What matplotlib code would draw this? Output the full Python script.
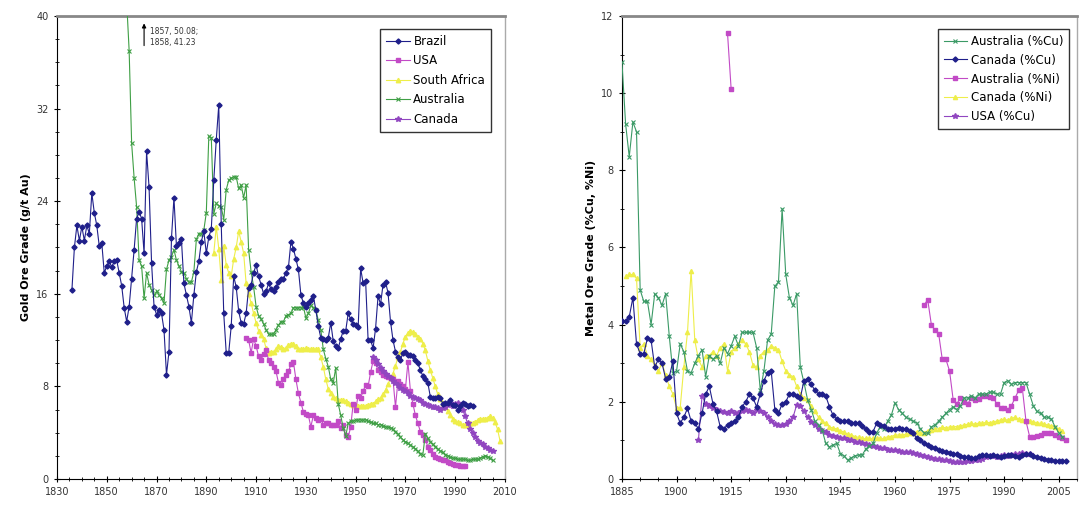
import numpy as np
import matplotlib
matplotlib.use("Agg")
import matplotlib.pyplot as plt
from matplotlib.ticker import MultipleLocator

# ---------------- gold (left panel) ----------------
brazil_years = list(range(1836, 1998))
brazil = [16.3, 20.0, 21.9, 20.6, 21.8, 20.6, 21.9, 21.2, 24.7, 23.0,
          21.9, 20.1, 20.4, 17.8, 18.4, 18.8, 18.3, 18.8, 18.9, 17.8,
          16.7, 14.8, 13.6, 14.9, 17.3, 19.8, 22.5, 23.1, 22.5, 19.5,
          28.3, 25.2, 18.7, 14.9, 14.2, 14.6, 14.3, 12.9, 9.0, 11.0,
          20.8, 24.3, 20.1, 20.4, 20.7, 16.9, 15.9, 14.9, 13.5, 15.9,
          17.9, 18.8, 20.5, 21.4, 19.5, 20.9, 21.6, 25.8, 29.3, 32.3,
          22.0, 14.3, 10.9, 10.9, 13.2, 17.5, 16.6, 14.5, 13.5, 13.4,
          14.3, 16.5, 16.8, 17.8, 18.5, 17.5, 16.8, 16.0, 16.2, 16.9,
          16.4, 16.2, 16.6, 17.0, 17.3, 17.3, 17.8, 18.3, 20.5, 19.9,
          19.0, 18.1, 15.9, 15.2, 14.9, 15.2, 15.5, 15.8, 14.6, 13.2,
          12.2, 12.1, 12.0, 12.2, 13.5, 11.9, 11.5, 11.3, 12.1, 12.8,
          12.8, 14.3, 13.8, 13.4, 13.3, 13.1, 18.2, 16.9, 17.1, 12.0,
          12.0, 11.3, 13.0, 15.8, 15.1, 16.8, 17.0, 16.1, 13.6, 12.0,
          11.0, 10.5, 10.3, 10.9, 11.0, 10.7, 10.7, 10.6, 10.3, 10.0,
          9.4, 8.9, 8.6, 8.3, 7.1, 7.0, 7.0, 7.1, 7.0, 6.5,
          6.6, 6.6, 6.8, 6.4, 6.4, 6.0, 6.3, 6.6, 6.5, 6.3,
          6.4, 6.3]

usa_years = list(range(1906, 1995))
usa = [12.2, 12.0, 10.9, 12.1, 11.5, 10.6, 10.3, 10.8, 11.1, 10.3,
       10.0, 9.7, 9.3, 8.3, 8.1, 8.6, 9.0, 9.3, 9.9, 10.1,
       8.6, 7.4, 6.6, 5.8, 5.6, 5.5, 4.5, 5.5, 5.3, 5.1,
       5.2, 4.7, 4.8, 4.8, 4.7, 4.7, 4.7, 5.0, 4.4, 4.7,
       3.8, 3.6, 4.5, 6.5, 6.0, 7.2, 7.0, 7.6, 8.1, 8.0,
       9.2, 10.2, 10.0, 9.4, 9.2, 9.0, 8.9, 8.8, 8.7, 8.6,
       6.2, 8.5, 8.2, 8.0, 7.8, 10.1, 7.6, 6.5, 5.5, 4.8,
       4.1, 3.8, 3.4, 2.8, 2.5, 2.2, 1.9, 1.8, 1.7, 1.6,
       1.6, 1.5, 1.4, 1.3, 1.2, 1.2, 1.1, 1.1, 1.1]

safrica_years = list(range(1893, 2009))
safrica = [19.5, 21.8, 19.9, 17.2, 20.1, 18.5, 17.8, 17.5, 19.0, 20.0,
           21.4, 20.5, 19.5, 16.9, 16.0, 15.2, 14.3, 13.5, 12.8, 12.4,
           12.1, 11.3, 10.9, 11.0, 11.0, 11.2, 11.5, 11.4, 11.2, 11.3,
           11.6, 11.7, 11.7, 11.5, 11.2, 11.2, 11.2, 11.3, 11.2, 11.2,
           11.2, 11.2, 11.2, 10.5, 9.7, 8.6, 7.8, 7.4, 7.1, 7.0,
           6.8, 6.8, 6.8, 6.7, 6.6, 6.5, 6.4, 6.4, 6.3, 6.3,
           6.3, 6.3, 6.4, 6.5, 6.5, 6.7, 6.9, 7.0, 7.3, 7.7,
           8.2, 8.7, 9.1, 9.8, 10.5, 11.0, 11.7, 12.3, 12.6, 12.8,
           12.7, 12.5, 12.3, 12.1, 11.7, 11.1, 10.2, 9.4, 8.7, 8.0,
           7.3, 6.9, 6.6, 6.2, 5.9, 5.5, 5.2, 5.0, 4.9, 4.8,
           4.7, 4.7, 4.7, 4.8, 4.8, 4.9, 5.1, 5.2, 5.2, 5.2,
           5.3, 5.4, 5.3, 4.9, 4.3, 3.3]

australia_years = list(range(1857, 2006))
australia = [50.08, 41.23, 37.0, 29.0, 26.0, 23.5, 18.9, 18.4, 15.6, 17.8,
             16.8, 16.3, 15.9, 16.2, 15.9, 15.6, 15.2, 18.1, 18.9, 19.2,
             19.8, 18.9, 18.4, 17.9, 17.8, 17.3, 17.0, 17.0, 17.9, 20.7,
             21.2, 21.2, 21.5, 23.0, 29.6, 29.5, 22.9, 23.8, 23.6, 23.5,
             22.4, 25.0, 25.8, 26.0, 26.1, 26.1, 25.1, 25.4, 24.3, 25.4,
             19.8, 17.9, 16.6, 14.9, 14.1, 13.8, 13.4, 12.9, 12.5, 12.5,
             12.5, 12.9, 13.3, 13.6, 13.6, 14.1, 14.2, 14.3, 14.8, 14.8,
             14.8, 14.8, 14.9, 13.9, 14.3, 15.0, 14.8, 14.6, 13.7, 12.9,
             11.2, 10.4, 9.7, 8.6, 8.3, 9.6, 6.5, 5.5, 4.4, 3.7,
             4.8, 5.0, 5.0, 5.1, 5.1, 5.1, 5.1, 5.1, 5.0, 4.9,
             4.8, 4.8, 4.7, 4.7, 4.6, 4.5, 4.5, 4.4, 4.3, 4.1,
             3.9, 3.6, 3.4, 3.2, 3.1, 2.9, 2.8, 2.6, 2.4, 2.2,
             2.1, 3.9, 3.5, 3.2, 3.0, 2.8, 2.6, 2.4, 2.3, 2.1,
             2.0, 1.9, 1.8, 1.8, 1.7, 1.7, 1.7, 1.7, 1.6, 1.6,
             1.7, 1.7, 1.7, 1.8, 1.9, 2.0, 1.9, 1.8, 1.6]

canada_years = list(range(1957, 2006))
canada = [10.5, 10.3, 9.9, 9.6, 9.3, 9.1, 8.9, 8.7, 8.5, 8.3,
          8.1, 7.9, 7.7, 7.6, 7.4, 7.2, 7.1, 7.0, 6.9, 6.8,
          6.6, 6.5, 6.4, 6.3, 6.2, 6.2, 6.1, 6.0, 6.1, 6.2,
          6.4, 6.6, 6.3, 6.5, 6.6, 6.4, 6.0, 5.4, 4.8, 4.3,
          4.0, 3.6, 3.3, 3.1, 3.0, 2.8, 2.7, 2.5, 2.4]

# ---------------- copper / nickel (right panel) ----------------
aus_cu_years = list(range(1885, 2007))
aus_cu = [10.8, 9.2, 8.35, 9.25, 9.0, 4.9, 4.6, 4.6, 4.0, 4.8,
          4.7, 4.5, 4.8, 3.7, 2.75, 2.8, 3.5, 3.3, 2.8, 2.75,
          3.0, 3.2, 3.35, 2.65, 3.2, 3.1, 3.2, 3.0, 3.4, 3.25,
          3.45, 3.7, 3.45, 3.8, 3.8, 3.8, 3.8, 3.4, 2.3, 2.8,
          3.6, 3.75, 5.0, 5.1, 7.0, 5.3, 4.7, 4.5, 4.8, 2.9,
          2.5, 2.05, 1.8, 1.5, 1.4, 1.27, 0.92, 0.83, 0.88, 0.92,
          0.66, 0.6, 0.49, 0.55, 0.6, 0.62, 0.62, 0.78, 0.85, 0.92,
          1.2, 1.35, 1.3, 1.5, 1.65, 1.97, 1.8, 1.7, 1.6, 1.55,
          1.5, 1.45, 1.3, 1.2, 1.18, 1.35, 1.4, 1.5, 1.6, 1.7,
          1.8, 1.87, 1.8, 1.9, 2.1, 2.1, 2.15, 2.1, 2.2, 2.2,
          2.2, 2.25, 2.25, 2.2, 2.2, 2.5, 2.55, 2.45, 2.5, 2.5,
          2.5, 2.5, 2.2, 1.9, 1.75, 1.7, 1.6, 1.6, 1.55, 1.35,
          1.2, 1.1]

can_cu_years = list(range(1885, 2008))
can_cu = [4.1, 4.1, 4.2, 4.7, 3.5, 3.25, 3.25, 3.65, 3.6, 2.9,
          3.1, 3.0, 2.6, 2.65, 3.05, 1.7, 1.45, 1.6, 1.83, 1.5,
          1.45, 1.3, 1.7, 2.2, 2.4, 1.95, 1.75, 1.35, 1.3, 1.4,
          1.45, 1.5, 1.6, 1.87, 2.0, 2.2, 2.1, 1.87, 2.2, 2.55,
          2.75, 2.8, 1.8, 1.7, 1.95, 2.0, 2.2, 2.2, 2.15, 2.1,
          2.55, 2.6, 2.45, 2.3, 2.2, 2.2, 2.15, 1.87, 1.65, 1.55,
          1.5, 1.5, 1.5, 1.45, 1.45, 1.45, 1.37, 1.3, 1.23, 1.23,
          1.45, 1.4, 1.37, 1.3, 1.3, 1.3, 1.33, 1.3, 1.3, 1.25,
          1.2, 1.05, 1.0, 0.92, 0.88, 0.84, 0.8, 0.75, 0.72, 0.7,
          0.68, 0.66, 0.64, 0.6, 0.58, 0.56, 0.55, 0.54, 0.6, 0.62,
          0.62, 0.6, 0.62, 0.6, 0.58, 0.6, 0.62, 0.63, 0.6, 0.58,
          0.62, 0.66, 0.66, 0.6, 0.58, 0.55, 0.52, 0.5, 0.48, 0.47,
          0.47, 0.46, 0.46]

aus_ni_years = [1914, 1915, 1916] + list(range(1968, 2008))
aus_ni = [11.55, 10.1, np.nan,
          4.5, 4.65, 4.0, 3.85, 3.77, 3.1, 3.1, 2.8, 2.05, 1.95,
          2.1, 2.0, 1.95, 2.1, 2.05, 2.08, 2.15, 2.15, 2.12, 2.1,
          1.95, 1.85, 1.85, 1.8, 1.9, 2.1, 2.3, 2.35, 1.5, 1.1,
          1.1, 1.12, 1.15, 1.18, 1.2, 1.2, 1.15, 1.1, 1.05, 1.0]

can_ni_years = list(range(1886, 2007))
can_ni = [5.25, 5.3, 5.3, 5.2, 3.4, 3.5, 3.2, 3.1, 2.95, 2.8,
          3.0, 2.7, 2.4, 2.2, 1.83, 1.85, 2.9, 3.8, 5.4, 3.6,
          3.1, 2.9, 3.2, 3.2, 3.3, 3.2, 3.4, 3.5, 2.8, 3.3,
          3.4, 3.5, 3.6, 3.5, 3.3, 2.95, 2.9, 3.2, 3.3, 3.35,
          3.45, 3.4, 3.35, 3.05, 2.8, 2.7, 2.65, 2.4, 2.2, 2.1,
          2.05, 1.9, 1.75, 1.6, 1.5, 1.45, 1.35, 1.32, 1.3, 1.25,
          1.22, 1.16, 1.14, 1.1, 1.08, 1.05, 1.05, 1.05, 1.05, 1.05,
          1.05, 1.05, 1.1, 1.1, 1.14, 1.14, 1.14, 1.16, 1.18, 1.2,
          1.22, 1.18, 1.2, 1.25, 1.27, 1.3, 1.3, 1.35, 1.32, 1.35,
          1.35, 1.36, 1.38, 1.4, 1.42, 1.44, 1.42, 1.45, 1.44, 1.47,
          1.46, 1.48, 1.5, 1.53, 1.55, 1.52, 1.57, 1.6, 1.55, 1.53,
          1.5, 1.5, 1.48, 1.46, 1.44, 1.42, 1.4, 1.38, 1.35, 1.3,
          1.25]

usa_cu_years = list(range(1906, 1998))
usa_cu = [1.0, 2.15, 1.95, 1.9, 1.85, 1.78, 1.75, 1.73, 1.72, 1.75,
          1.7, 1.72, 1.75, 1.78, 1.75, 1.72, 1.8, 1.75, 1.7, 1.6,
          1.5, 1.43, 1.4, 1.4, 1.43, 1.5, 1.6, 1.92, 1.88, 1.75,
          1.6, 1.48, 1.4, 1.3, 1.25, 1.22, 1.15, 1.12, 1.1, 1.07,
          1.05, 1.02, 1.0, 0.97, 0.95, 0.92, 0.9, 0.88, 0.86, 0.83,
          0.81, 0.79, 0.76, 0.75, 0.74, 0.73, 0.71, 0.7, 0.69, 0.67,
          0.65, 0.63, 0.6, 0.58, 0.55, 0.53, 0.51, 0.5, 0.48, 0.46,
          0.45, 0.45, 0.45, 0.45, 0.46, 0.47, 0.48, 0.5, 0.53, 0.58,
          0.6, 0.6, 0.58, 0.6, 0.62, 0.6, 0.62, 0.65, 0.66, 0.68,
          0.66, 0.65]

NAVY = "#1f1f8a"
MAGENTA = "#c24ac6"
YELLOW = "#eeee4a"
GREEN = "#3f9f45"
PURPLE = "#9146c0"
TEAL = "#3b9a66"

fig = plt.figure(figsize=(10.83, 5.12), dpi=100)
ax1 = fig.add_axes([0.0526, 0.0645, 0.4137, 0.9043])
ax2 = fig.add_axes([0.5743, 0.0645, 0.4201, 0.9043])

lw = 0.8
ax1.plot(brazil_years, brazil, color=NAVY, marker="D", ms=2.6, lw=lw, label="Brazil", zorder=5)
ax1.plot(usa_years, usa, color=MAGENTA, marker="s", ms=3.2, lw=lw, label="USA", zorder=3)
ax1.plot(safrica_years, safrica, color=YELLOW, marker="^", ms=3.2, lw=lw, label="South Africa", zorder=2)
ax1.plot(australia_years, australia, color=GREEN, marker="x", ms=3, mew=0.8, lw=lw, label="Australia", zorder=4)
ax1.plot(canada_years, canada, color=PURPLE, marker="*", ms=4, lw=lw, label="Canada", zorder=3)

ax1.set_xlim(1830, 2010)
ax1.set_ylim(0, 40)
ax1.set_xticks(list(range(1830, 2011, 20)))
ax1.xaxis.set_minor_locator(MultipleLocator(5))
ax1.yaxis.set_major_locator(MultipleLocator(8))
ax1.yaxis.set_minor_locator(MultipleLocator(2))
ax1.set_ylabel("Gold Ore Grade (g/t Au)", fontsize=8, fontweight="bold", labelpad=4)
ax1.annotate("", xy=(1865, 39.6), xytext=(1865, 37.2),
             arrowprops=dict(arrowstyle="-|>", color="black", lw=0.8, mutation_scale=6))
ax1.text(1867.5, 38.2, "1857, 50.08;\n1858, 41.23", fontsize=5.5, va="center", ha="left",
         color="#333333", linespacing=1.3)
ax1.legend(loc="upper right", bbox_to_anchor=(0.982, 0.985), fontsize=8.5, frameon=True,
           fancybox=False, edgecolor="black", handlelength=2.0, borderpad=0.5,
           labelspacing=0.55, handletextpad=0.3)

ax2.plot(aus_cu_years, aus_cu, color=TEAL, marker="x", ms=3, mew=0.8, lw=lw, label="Australia (%Cu)", zorder=4)
ax2.plot(can_cu_years, can_cu, color=NAVY, marker="D", ms=2.6, lw=lw, label="Canada (%Cu)", zorder=5)
ax2.plot(aus_ni_years, aus_ni, color=MAGENTA, marker="s", ms=3.2, lw=lw, label="Australia (%Ni)", zorder=3)
ax2.plot(can_ni_years, can_ni, color=YELLOW, marker="^", ms=3, lw=lw, label="Canada (%Ni)", zorder=2)
ax2.plot(usa_cu_years, usa_cu, color=PURPLE, marker="*", ms=4, lw=lw, label="USA (%Cu)", zorder=3)

ax2.set_xlim(1885, 2010)
ax2.set_ylim(0, 12)
ax2.set_xticks(list(range(1885, 2006, 15)))
ax2.xaxis.set_minor_locator(MultipleLocator(5))
ax2.yaxis.set_major_locator(MultipleLocator(2))
ax2.yaxis.set_minor_locator(MultipleLocator(1))
ax2.set_ylabel("Metal Ore Grade (%Cu, %Ni)", fontsize=8, fontweight="bold", labelpad=4)
ax2.legend(loc="upper right", bbox_to_anchor=(0.996, 0.985), fontsize=8.5, frameon=True,
           fancybox=False, edgecolor="black", handlelength=2.0, borderpad=0.5,
           labelspacing=0.5, handletextpad=0.3)

for ax in (ax1, ax2):
    ax.tick_params(axis="both", which="major", direction="inout", length=5, width=0.8,
                   labelsize=7, labelcolor="#333333")
    ax.tick_params(axis="both", which="minor", direction="inout", length=3, width=0.6)
    ax.spines["left"].set_color("black")
    ax.spines["bottom"].set_color("black")
    ax.spines["top"].set_color("#888888")
    ax.spines["top"].set_linewidth(2.0)
    ax.spines["right"].set_color("#aaaaaa")
    ax.spines["right"].set_linewidth(1.0)
    ax.get_legend().get_frame().set_linewidth(1.0)

fig.savefig("out.png", dpi=100)
